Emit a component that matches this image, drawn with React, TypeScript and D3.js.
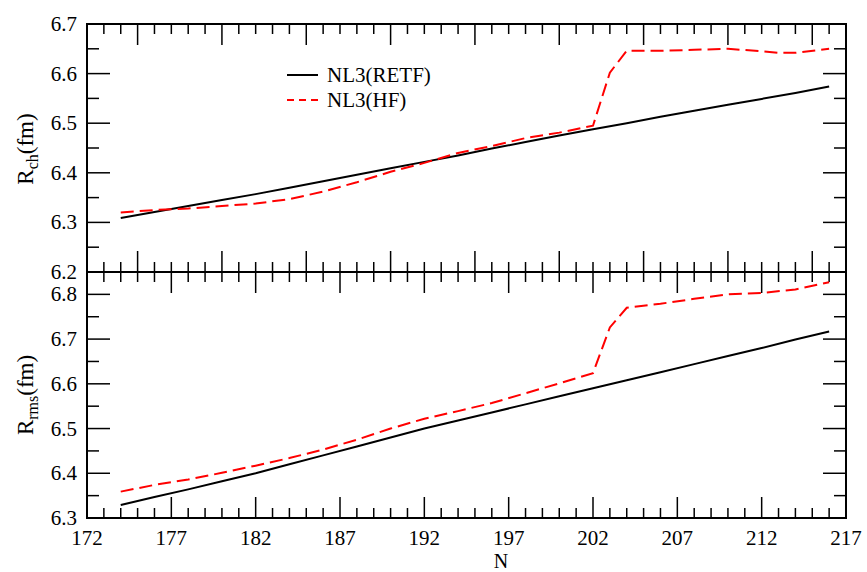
import React from "react";
import * as d3 from "d3";

const nEven = [174, 176, 178, 180, 182, 184, 186, 188, 190, 192, 194, 196, 198, 200, 202, 204, 206, 208, 210, 212, 214, 216];
const rchRETF = [6.309, 6.321, 6.333, 6.345, 6.357, 6.370, 6.383, 6.396, 6.409, 6.422, 6.435, 6.449, 6.462, 6.475, 6.488, 6.500, 6.513, 6.525, 6.537, 6.549, 6.561, 6.574];
const nHFch = [174, 176, 178, 180, 182, 184, 186, 188, 190, 192, 194, 196, 198, 200, 202, 203, 204, 206, 208, 210, 212, 213, 214, 216];
const rchHF = [6.320, 6.325, 6.328, 6.333, 6.338, 6.347, 6.362, 6.381, 6.402, 6.420, 6.440, 6.454, 6.470, 6.481, 6.495, 6.602, 6.646, 6.646, 6.648, 6.650, 6.645, 6.642, 6.642, 6.650];
const rrmsRETF = [6.329, 6.347, 6.364, 6.382, 6.400, 6.420, 6.440, 6.460, 6.480, 6.500, 6.518, 6.536, 6.554, 6.572, 6.590, 6.608, 6.626, 6.644, 6.662, 6.680, 6.699, 6.717];
const nHFrms = [174, 176, 178, 180, 182, 184, 186, 188, 190, 192, 194, 196, 198, 200, 202, 203, 204, 206, 208, 210, 212, 214, 216];
const rrmsHF = [6.359, 6.374, 6.386, 6.401, 6.417, 6.434, 6.453, 6.475, 6.500, 6.522, 6.539, 6.557, 6.579, 6.601, 6.624, 6.726, 6.770, 6.779, 6.790, 6.800, 6.803, 6.811, 6.827];

const xTickLabels = ["172", "177", "182", "187", "192", "197", "202", "207", "212", "217"];
const topYTicks = [6.2, 6.3, 6.4, 6.5, 6.6, 6.7];
const botYTicks = [6.3, 6.4, 6.5, 6.6, 6.7, 6.8];
const legendLabels = ["NL3(RETF)", "NL3(HF)"];

const L = 87, R = 846, T = 24, M = 272, B = 518;
const FONT = "Liberation Serif";

export default function App() {
  const x = d3.scaleLinear().domain([172, 217]).range([L, R]);
  const yTop = d3.scaleLinear().domain([6.2, 6.7]).range([M, T]);
  const yBot = d3.scaleLinear().domain([6.3, 6.85]).range([B, M]);

  const lineOf = (xs: number[], ys: number[], yS: d3.ScaleLinear<number, number>) =>
    d3.line<number>().x((_, i) => x(xs[i])).y((v) => yS(v))(ys) || "";

  const minorX = d3.range(172, 218, 1);
  const topMajorX = d3.range(175, 216, 5);
  const botMajorX = xTickLabels.map(Number);

  const ticks: any[] = [];
  let k = 0;
  const ln = (x1: number, y1: number, x2: number, y2: number) =>
    ticks.push(<line key={k++} x1={x1} y1={y1} x2={x2} y2={y2} stroke="#000" strokeWidth={1.5} />);

  minorX.forEach((n) => {
    const big = topMajorX.includes(n);
    const len = big ? 21 : 10;
    ln(x(n), T, x(n), T + len);
    ln(x(n), M, x(n), M - len);
  });
  minorX.forEach((n) => {
    const big = botMajorX.includes(n);
    const len = big ? 21 : 10;
    ln(x(n), M, x(n), M + len);
    ln(x(n), B, x(n), B - len);
  });
  d3.range(0, 11).forEach((i) => {
    const v = 6.2 + i * 0.05;
    const len = i % 2 === 0 ? 23 : 12;
    ln(L, yTop(v), L + len, yTop(v));
    ln(R, yTop(v), R - len, yTop(v));
  });
  d3.range(0, 11).forEach((i) => {
    const v = 6.3 + i * 0.05;
    const len = i % 2 === 0 ? 23 : 12;
    ln(L, yBot(v), L + len, yBot(v));
    ln(R, yBot(v), R - len, yBot(v));
  });

  const txt = { fontFamily: FONT };

  return (
    <svg width={867} height={572} style={{ position: "absolute", left: 0, top: 0, background: "#fff" }}>
      <rect x={0} y={0} width={867} height={572} fill="#fff" />
      {ticks}
      <rect x={L} y={T} width={R - L} height={B - T} fill="none" stroke="#000" strokeWidth={2} />
      <line x1={L} y1={M} x2={R} y2={M} stroke="#000" strokeWidth={2} />

      <path d={lineOf(nEven, rchRETF, yTop)} fill="none" stroke="#000" strokeWidth={2} />
      <path d={lineOf(nHFch, rchHF, yTop)} fill="none" stroke="#ff0000" strokeWidth={2} strokeDasharray="13,6" />
      <path d={lineOf(nEven, rrmsRETF, yBot)} fill="none" stroke="#000" strokeWidth={2} />
      <path d={lineOf(nHFrms, rrmsHF, yBot)} fill="none" stroke="#ff0000" strokeWidth={2} strokeDasharray="13,6" />

      {topYTicks.map((v) => (
        <text key={"ty" + v} style={txt} x={77} y={yTop(v) + 7} textAnchor="end" fontSize={21}>{v.toFixed(1)}</text>
      ))}
      {botYTicks.map((v) => (
        <text key={"by" + v} style={txt} x={77} y={yBot(v) + 7} textAnchor="end" fontSize={21}>{v.toFixed(1)}</text>
      ))}
      {xTickLabels.map((t) => (
        <text key={"x" + t} style={txt} x={x(+t)} y={545} textAnchor="middle" fontSize={21}>{t}</text>
      ))}
      <text style={txt} x={501} y={567.5} textAnchor="middle" fontSize={20}>N</text>

      <text style={txt} transform={`translate(33,${(T + M) / 2 + 1}) rotate(-90)`} textAnchor="middle" fontSize={23}>
        R<tspan fontSize={16} dy={5}>ch</tspan><tspan dy={-5}>(fm)</tspan>
      </text>
      <text style={txt} transform={`translate(33,${(M + B) / 2}) rotate(-90)`} textAnchor="middle" fontSize={23}>
        R<tspan fontSize={16} dy={5}>rms</tspan><tspan dy={-5}>(fm)</tspan>
      </text>

      <line x1={287} y1={75} x2={318} y2={75} stroke="#000" strokeWidth={2} />
      <text style={txt} x={327} y={82} fontSize={21}>{legendLabels[0]}</text>
      <line x1={287} y1={100} x2={318} y2={100} stroke="#ff0000" strokeWidth={2} strokeDasharray="7,5" />
      <text style={txt} x={327} y={107} fontSize={21}>{legendLabels[1]}</text>
    </svg>
  );
}
